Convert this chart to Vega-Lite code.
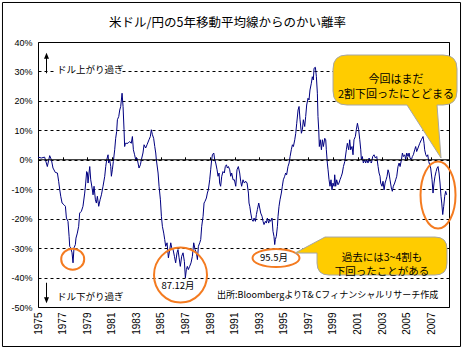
{
  "$schema": "https://vega.github.io/schema/vega-lite/v6.json",
  "width": 411,
  "height": 265,
  "autosize": {"type": "none"},
  "padding": {"left": 38, "top": 42, "right": 15, "bottom": 43},
  "background": "white",
  "config": {"view": {"stroke": "black", "strokeWidth": 1}, "font": "Noto Sans CJK JP"},
  "resolve": {"axis": {"x": "independent", "y": "independent"}},
  "datasets": {
    "fx": [
      {"t":1975.00,"pct":0.9},{"t":1975.27,"pct":0.6},{"t":1975.54,"pct":0.9},{"t":1975.76,"pct":-2.3},{"t":1975.95,"pct":1.4},{"t":1976.09,"pct":0},{"t":1976.22,"pct":-2.8},{"t":1976.41,"pct":-4.3},{"t":1976.58,"pct":-4.5},{"t":1976.68,"pct":-7.3},{"t":1976.77,"pct":-10.2},{"t":1976.85,"pct":-12.4},{"t":1976.96,"pct":-14.7},{"t":1977.12,"pct":-15.3},{"t":1977.23,"pct":-15.8},{"t":1977.31,"pct":-19.8},{"t":1977.44,"pct":-20.9},{"t":1977.53,"pct":-26.0},{"t":1977.58,"pct":-29.4},{"t":1977.66,"pct":-29.9},{"t":1977.77,"pct":-31.6},{"t":1977.85,"pct":-35.0},{"t":1977.93,"pct":-29.9},{"t":1978.04,"pct":-28.8},{"t":1978.09,"pct":-26.6},{"t":1978.20,"pct":-24.9},{"t":1978.31,"pct":-22.6},{"t":1978.39,"pct":-18.1},{"t":1978.53,"pct":-17.5},{"t":1978.66,"pct":-15.8},{"t":1978.80,"pct":-11.3},{"t":1978.88,"pct":-7.9},{"t":1978.96,"pct":-4.0},{"t":1979.02,"pct":-4.5},{"t":1979.07,"pct":-7.9},{"t":1979.15,"pct":-4.5},{"t":1979.21,"pct":-2.3},{"t":1979.29,"pct":-6.8},{"t":1979.40,"pct":-9.6},{"t":1979.48,"pct":-11.9},{"t":1979.56,"pct":-9.0},{"t":1979.67,"pct":-13.6},{"t":1979.75,"pct":-14.7},{"t":1979.83,"pct":-12.4},{"t":1979.94,"pct":-15.8},{"t":1980.05,"pct":-13.6},{"t":1980.16,"pct":-11.9},{"t":1980.29,"pct":-9.0},{"t":1980.43,"pct":-5.6},{"t":1980.51,"pct":-2.3},{"t":1980.59,"pct":0},{"t":1980.70,"pct":1.7},{"t":1980.75,"pct":-1.1},{"t":1980.83,"pct":0},{"t":1980.92,"pct":-2.3},{"t":1980.97,"pct":-5.6},{"t":1981.05,"pct":-3.4},{"t":1981.13,"pct":-0.6},{"t":1981.24,"pct":3.4},{"t":1981.32,"pct":7.3},{"t":1981.40,"pct":9.6},{"t":1981.46,"pct":13.6},{"t":1981.57,"pct":14.7},{"t":1981.65,"pct":16.9},{"t":1981.73,"pct":18.1},{"t":1981.84,"pct":22.6},{"t":1981.92,"pct":18.1},{"t":1982.00,"pct":10.2},{"t":1982.05,"pct":4.5},{"t":1982.11,"pct":5.6},{"t":1982.32,"pct":5.6},{"t":1982.46,"pct":6.2},{"t":1982.59,"pct":5.6},{"t":1982.68,"pct":7.9},{"t":1982.76,"pct":3.4},{"t":1982.86,"pct":1.7},{"t":1982.95,"pct":0},{"t":1983.05,"pct":0.6},{"t":1983.14,"pct":-1.1},{"t":1983.22,"pct":-2.8},{"t":1983.33,"pct":-1.7},{"t":1983.41,"pct":0},{"t":1983.54,"pct":2.3},{"t":1983.63,"pct":5.1},
      {"t":1983.76,"pct":4.0},{"t":1983.87,"pct":5.1},{"t":1984.03,"pct":6.8},{"t":1984.14,"pct":7.9},{"t":1984.22,"pct":10.2},{"t":1984.31,"pct":8.5},{"t":1984.41,"pct":7.3},{"t":1984.50,"pct":4.5},{"t":1984.58,"pct":2.3},{"t":1984.63,"pct":0},{"t":1984.77,"pct":-4.5},{"t":1984.85,"pct":-9.0},{"t":1984.96,"pct":-13.6},{"t":1985.04,"pct":-19.2},{"t":1985.12,"pct":-22.6},{"t":1985.23,"pct":-24.9},{"t":1985.31,"pct":-27.1},{"t":1985.39,"pct":-29.4},{"t":1985.50,"pct":-28.2},{"t":1985.61,"pct":-33.3},{"t":1985.72,"pct":-30.5},{"t":1985.80,"pct":-28.2},{"t":1985.88,"pct":-29.9},{"t":1985.99,"pct":-30.5},{"t":1986.10,"pct":-32.8},{"t":1986.20,"pct":-35.0},{"t":1986.31,"pct":-31.6},{"t":1986.39,"pct":-30.5},{"t":1986.48,"pct":-33.3},{"t":1986.58,"pct":-36.2},{"t":1986.69,"pct":-32.8},{"t":1986.80,"pct":-31.6},{"t":1986.91,"pct":-34.5},{"t":1986.99,"pct":-40.1},{"t":1987.07,"pct":-37.3},{"t":1987.15,"pct":-36.2},{"t":1987.23,"pct":-37.3},{"t":1987.34,"pct":-36.2},{"t":1987.45,"pct":-35.0},{"t":1987.56,"pct":-32.8},{"t":1987.67,"pct":-28.2},{"t":1987.78,"pct":-30.5},{"t":1987.89,"pct":-31.6},{"t":1987.97,"pct":-33.9},{"t":1988.05,"pct":-29.4},{"t":1988.16,"pct":-28.2},{"t":1988.24,"pct":-27.1},{"t":1988.32,"pct":-22.6},{"t":1988.43,"pct":-19.2},{"t":1988.51,"pct":-14.7},{"t":1988.59,"pct":-14.1},{"t":1988.70,"pct":-13.0},{"t":1988.78,"pct":-11.3},{"t":1988.86,"pct":-10.2},{"t":1988.97,"pct":-6.8},{"t":1989.05,"pct":-3.4},{"t":1989.13,"pct":0},{"t":1989.19,"pct":1.7},{"t":1989.30,"pct":2.3},{"t":1989.38,"pct":0},{"t":1989.46,"pct":-1.1},{"t":1989.57,"pct":-3.4},{"t":1989.65,"pct":-5.6},{"t":1989.73,"pct":-4.5},{"t":1989.78,"pct":-7.9},{"t":1989.86,"pct":-9.0},{"t":1989.95,"pct":-5.6},{"t":1990.05,"pct":-4.0},{"t":1990.16,"pct":-4.5},{"t":1990.24,"pct":-2.3},{"t":1990.33,"pct":-1.7},{"t":1990.41,"pct":-2.8},{"t":1990.49,"pct":-2.3},{"t":1990.60,"pct":-3.4},{"t":1990.68,"pct":-5.6},{"t":1990.76,"pct":-4.5},{"t":1990.87,"pct":-6.8},{"t":1990.98,"pct":-6.8},{"t":1991.09,"pct":-9.0},{"t":1991.19,"pct":-3.4},{"t":1991.30,"pct":-2.3},{"t":1991.41,"pct":-4.5},{"t":1991.49,"pct":-7.3},{"t":1991.57,"pct":-9.0},{"t":1991.68,"pct":-6.8},{"t":1991.79,"pct":-7.9},{"t":1991.90,"pct":-7.3},{"t":1992.01,"pct":-7.9},{"t":1992.12,"pct":-11.3},{"t":1992.17,"pct":-14.7},
      {"t":1992.23,"pct":-15.8},{"t":1992.31,"pct":-18.1},{"t":1992.41,"pct":-20.3},{"t":1992.50,"pct":-20.9},{"t":1992.58,"pct":-19.8},{"t":1992.69,"pct":-20.9},{"t":1992.77,"pct":-18.6},{"t":1992.85,"pct":-16.9},{"t":1992.96,"pct":-14.7},{"t":1993.04,"pct":-16.4},{"t":1993.12,"pct":-18.1},{"t":1993.23,"pct":-19.2},{"t":1993.31,"pct":-20.9},{"t":1993.39,"pct":-22.0},{"t":1993.50,"pct":-20.9},{"t":1993.58,"pct":-21.5},{"t":1993.66,"pct":-19.8},{"t":1993.77,"pct":-21.5},{"t":1993.85,"pct":-20.3},{"t":1993.93,"pct":-20.9},{"t":1994.04,"pct":-19.8},{"t":1994.12,"pct":-24.3},{"t":1994.20,"pct":-26.0},{"t":1994.26,"pct":-28.8},{"t":1994.31,"pct":-27.1},{"t":1994.39,"pct":-26.0},{"t":1994.48,"pct":-22.6},{"t":1994.53,"pct":-19.2},{"t":1994.61,"pct":-15.8},{"t":1994.69,"pct":-13.6},{"t":1994.80,"pct":-11.3},{"t":1994.88,"pct":-9.0},{"t":1994.96,"pct":-6.8},{"t":1995.07,"pct":-5.6},{"t":1995.15,"pct":-4.5},{"t":1995.23,"pct":-5.1},{"t":1995.34,"pct":-2.3},{"t":1995.43,"pct":-1.1},{"t":1995.51,"pct":1.1},{"t":1995.61,"pct":3.4},{"t":1995.70,"pct":5.1},{"t":1995.78,"pct":4.5},{"t":1995.89,"pct":6.8},{"t":1995.97,"pct":9.0},{"t":1996.05,"pct":12.4},{"t":1996.16,"pct":16.9},{"t":1996.24,"pct":18.1},{"t":1996.32,"pct":13.6},{"t":1996.43,"pct":9.0},{"t":1996.51,"pct":10.2},{"t":1996.59,"pct":13.6},{"t":1996.70,"pct":11.3},{"t":1996.78,"pct":14.7},{"t":1996.86,"pct":18.6},{"t":1996.97,"pct":20.9},{"t":1997.05,"pct":20.3},{"t":1997.13,"pct":23.7},{"t":1997.24,"pct":26.0},{"t":1997.32,"pct":28.2},{"t":1997.40,"pct":27.1},{"t":1997.46,"pct":31.1},{"t":1997.57,"pct":31.4},{"t":1997.65,"pct":28.2},{"t":1997.73,"pct":22.6},{"t":1997.78,"pct":14.7},{"t":1997.84,"pct":10.2},{"t":1997.89,"pct":4.5},{"t":1997.97,"pct":6.8},{"t":1998.06,"pct":3.4},{"t":1998.14,"pct":6.8},{"t":1998.22,"pct":4.5},{"t":1998.33,"pct":7.3},{"t":1998.41,"pct":6.8},{"t":1998.46,"pct":3.4},{"t":1998.54,"pct":-1.1},{"t":1998.60,"pct":-3.4},{"t":1998.68,"pct":-6.8},{"t":1998.76,"pct":-9.0},{"t":1998.84,"pct":-6.8},{"t":1998.92,"pct":-10.2},{"t":1999.00,"pct":-7.9},{"t":1999.09,"pct":-9.0},{"t":1999.14,"pct":-5.1},{"t":1999.22,"pct":-9.0},{"t":1999.30,"pct":-6.8},{"t":1999.41,"pct":-8.5},{"t":1999.49,"pct":-7.9},{"t":1999.57,"pct":-6.8},{"t":1999.68,"pct":-5.6},{"t":1999.76,"pct":-4.5},{"t":1999.85,"pct":-2.3},
      {"t":1999.96,"pct":-0.6},{"t":2000.09,"pct":3.4},{"t":2000.17,"pct":5.6},{"t":2000.28,"pct":3.4},{"t":2000.36,"pct":6.8},{"t":2000.44,"pct":3.4},{"t":2000.55,"pct":4.5},{"t":2000.63,"pct":1.7},{"t":2000.71,"pct":6.8},{"t":2000.82,"pct":7.9},{"t":2000.90,"pct":10.2},{"t":2000.99,"pct":12.4},{"t":2001.09,"pct":10.2},{"t":2001.18,"pct":6.8},{"t":2001.26,"pct":3.4},{"t":2001.31,"pct":0},{"t":2001.39,"pct":1.1},{"t":2001.47,"pct":-1.1},{"t":2001.58,"pct":0},{"t":2001.66,"pct":-1.1},{"t":2001.75,"pct":0},{"t":2001.85,"pct":-1.1},{"t":2001.94,"pct":0.6},{"t":2002.02,"pct":-0.6},{"t":2002.13,"pct":-1.1},{"t":2002.23,"pct":1.1},{"t":2002.34,"pct":1.7},{"t":2002.45,"pct":0.6},{"t":2002.56,"pct":1.1},{"t":2002.67,"pct":-2.3},{"t":2002.75,"pct":-4.5},{"t":2002.83,"pct":-5.6},{"t":2002.88,"pct":-7.9},{"t":2002.99,"pct":-9.0},{"t":2003.07,"pct":-7.3},{"t":2003.16,"pct":-10.2},{"t":2003.24,"pct":-7.9},{"t":2003.32,"pct":-6.8},{"t":2003.40,"pct":-5.6},{"t":2003.48,"pct":-3.4},{"t":2003.56,"pct":-4.5},{"t":2003.64,"pct":-6.8},{"t":2003.75,"pct":-9.6},{"t":2003.83,"pct":-10.7},{"t":2003.91,"pct":-9.0},{"t":2004.02,"pct":-7.9},{"t":2004.10,"pct":-6.8},{"t":2004.19,"pct":-5.6},{"t":2004.29,"pct":-2.3},{"t":2004.38,"pct":-1.1},{"t":2004.46,"pct":-2.3},{"t":2004.57,"pct":0},{"t":2004.65,"pct":2.3},{"t":2004.73,"pct":1.1},{"t":2004.84,"pct":1.7},{"t":2004.92,"pct":0},{"t":2005.00,"pct":2.3},{"t":2005.11,"pct":1.1},{"t":2005.19,"pct":2.3},{"t":2005.27,"pct":0.6},{"t":2005.38,"pct":0},{"t":2005.46,"pct":1.1},{"t":2005.54,"pct":1.7},{"t":2005.65,"pct":3.4},{"t":2005.73,"pct":4.5},{"t":2005.81,"pct":2.8},{"t":2005.92,"pct":4.0},{"t":2006.06,"pct":5.6},{"t":2006.19,"pct":6.8},{"t":2006.33,"pct":7.9},{"t":2006.41,"pct":5.6},{"t":2006.46,"pct":3.4},{"t":2006.55,"pct":1.7},{"t":2006.63,"pct":1.1},{"t":2006.71,"pct":1.7},{"t":2006.79,"pct":-0.6},{"t":2006.87,"pct":-1.7},{"t":2006.95,"pct":-2.8},{"t":2007.06,"pct":-6.8},{"t":2007.14,"pct":-11.3},{"t":2007.22,"pct":-7.9},{"t":2007.30,"pct":-5.6},{"t":2007.39,"pct":-4.0},{"t":2007.47,"pct":-2.8},{"t":2007.55,"pct":-2.3},{"t":2007.63,"pct":-4.5},{"t":2007.71,"pct":-7.9},{"t":2007.79,"pct":-12.4},{"t":2007.85,"pct":-14.7},{"t":2007.93,"pct":-18.6},{"t":2008.01,"pct":-15.8},{"t":2008.09,"pct":-12.4},{"t":2008.17,"pct":-10.7},{"t":2008.25,"pct":-11.9}
    ]
  },
  "layer": [
    {
      "data": {"name": "fx"},
      "mark": {"type": "line", "color": "#000080", "strokeWidth": 1},
      "encoding": {
        "x": {"field": "t", "type": "quantitative", "scale": {"domain": [1975, 2008.44], "nice": false, "zero": false},
              "axis": {"orient": "bottom", "values": [1975,1977,1979,1981,1983,1985,1987,1989,1991,1993,1995,1997,1999,2001,2003,2005,2007], "format": "d", "labelAngle": -90, "labelFont": "Liberation Sans", "labelFontSize": 10, "labelColor": "black", "labelPadding": 5, "ticks": false, "domain": false, "grid": false, "title": null, "labelOverlap": false}},
        "y": {"field": "pct", "type": "quantitative", "scale": {"domain": [-50, 40], "nice": false, "zero": false},
              "axis": {"values": [-50,-40,-30,-20,-10,0,10,20,30,40], "labelExpr": "datum.value + '%'", "labelFont": "Liberation Sans", "labelFontSize": 9, "labelColor": "black", "labelPadding": 6, "ticks": false, "domain": false, "grid": true, "gridColor": "black", "gridOpacity": 1, "gridDash": [3, 3], "gridWidth": 1, "title": null}}
      }
    },
    {
      "data": {"values": [{}]},
      "mark": {"type": "rule", "color": "black", "strokeWidth": 1},
      "encoding": {
        "x": {"datum": 1975, "type": "quantitative", "axis": {"orient": "top", "offset": -117.8, "values": [1975,1977,1979,1981,1983,1985,1987,1989,1991,1993,1995,1997,1999,2001,2003,2005,2007], "labels": false, "ticks": true, "tickSize": 3, "tickColor": "black", "tickWidth": 1, "domain": false, "grid": false, "title": null}},
        "x2": {"datum": 2008.44},
        "y": {"datum": 0, "type": "quantitative", "axis": null}
      }
    },
    {
      "data": {"values": [{}]},
      "mark": {"type": "rect", "fill": null, "stroke": "black", "strokeWidth": 1},
      "encoding": {
        "x": {"datum": 1972.11, "type": "quantitative", "axis": null},
        "x2": {"datum": 2009.378},
        "y": {"datum": 53.42, "type": "quantitative", "axis": null},
        "y2": {"datum": -63.42}
      }
    },
    {
      "data": {"values": [{}]},
      "mark": {"type": "text", "text": "米ドル/円の5年移動平均線からのかい離率", "font": "Noto Sans CJK JP", "fontSize": 12.5, "align": "center", "baseline": "middle", "color": "black"},
      "encoding": {
        "x": {"datum": 1990.419, "type": "quantitative", "axis": null},
        "y": {"datum": 46.56, "type": "quantitative", "axis": null}
      }
    },
    {
      "data": {"values": [{}]},
      "mark": {"type": "rect", "fill": "white", "stroke": null},
      "encoding": {
        "x": {"datum": 1976.383, "type": "quantitative", "axis": null},
        "x2": {"datum": 1981.753},
        "y": {"datum": 32.53, "type": "quantitative", "axis": null},
        "y2": {"datum": 28.11}
      }
    },
    {
      "data": {"values": [{}]},
      "mark": {"type": "point", "shape": "M 0 -10.3 L 2.5 -4.3 L 0.5 -4.3 L 0.5 10.3 L -0.5 10.3 L -0.5 -4.3 L -2.5 -4.3 Z", "size": 4, "filled": true, "fill": "black", "strokeWidth": 0, "opacity": 1},
      "encoding": {
        "x": {"datum": 1975.692, "type": "quantitative", "axis": null},
        "y": {"datum": 32.87, "type": "quantitative", "axis": null}
      }
    },
    {
      "data": {"values": [{}]},
      "mark": {"type": "point", "shape": "M 0 10.3 L 2.5 4.3 L 0.5 4.3 L 0.5 -10.3 L -0.5 -10.3 L -0.5 4.3 L -2.5 4.3 Z", "size": 4, "filled": true, "fill": "black", "strokeWidth": 0, "opacity": 1},
      "encoding": {
        "x": {"datum": 1975.692, "type": "quantitative", "axis": null},
        "y": {"datum": -45.25, "type": "quantitative", "axis": null}
      }
    },
    {
      "data": {"values": [{}]},
      "mark": {"type": "text", "text": "ドル上がり過ぎ", "font": "Noto Sans CJK JP", "fontSize": 9.5, "align": "left", "baseline": "middle", "color": "black"},
      "encoding": {
        "x": {"datum": 1976.546, "type": "quantitative", "axis": null},
        "y": {"datum": 30.49, "type": "quantitative", "axis": null}
      }
    },
    {
      "data": {"values": [{}]},
      "mark": {"type": "text", "text": "ドル下がり過ぎ", "font": "Noto Sans CJK JP", "fontSize": 9.5, "align": "left", "baseline": "middle", "color": "black"},
      "encoding": {
        "x": {"datum": 1976.546, "type": "quantitative", "axis": null},
        "y": {"datum": -46.51, "type": "quantitative", "axis": null}
      }
    },
    {
      "data": {"values": [{}]},
      "mark": {"type": "text", "text": "出所:BloombergよりT& Cフィナンシャルリサーチ作成", "font": "Noto Sans CJK JP", "fontSize": 9, "align": "left", "baseline": "middle", "color": "black"},
      "encoding": {
        "x": {"datum": 1989.565, "type": "quantitative", "axis": null},
        "y": {"datum": -45.93, "type": "quantitative", "axis": null}
      }
    },
    {
      "data": {"values": [{}]},
      "mark": {"type": "point", "shape": "M -11.5 0 A 11.5 10.5 0 1 0 11.5 0 A 11.5 10.5 0 1 0 -11.5 0 Z", "size": 4, "filled": false, "stroke": "#F47B20", "strokeWidth": 2, "opacity": 1},
      "encoding": {
        "x": {"datum": 1977.823, "type": "quantitative", "axis": null},
        "y": {"datum": -33.77, "type": "quantitative", "axis": null}
      }
    },
    {
      "data": {"values": [{}]},
      "mark": {"type": "point", "shape": "M -26.5 0 A 26.5 27.5 0 1 0 26.5 0 A 26.5 27.5 0 1 0 -26.5 0 Z", "size": 4, "filled": false, "stroke": "#F47B20", "strokeWidth": 2, "opacity": 1},
      "encoding": {
        "x": {"datum": 1986.595, "type": "quantitative", "axis": null},
        "y": {"datum": -39.14, "type": "quantitative", "axis": null}
      }
    },
    {
      "data": {"values": [{}]},
      "mark": {"type": "point", "shape": "M -23.5 0 A 23.5 9 0 1 0 23.5 0 A 23.5 9 0 1 0 -23.5 0 Z", "size": 4, "filled": false, "stroke": "#F47B20", "strokeWidth": 2, "opacity": 1},
      "encoding": {
        "x": {"datum": 1994.365, "type": "quantitative", "axis": null},
        "y": {"datum": -33.37, "type": "quantitative", "axis": null}
      }
    },
    {
      "data": {"values": [{}]},
      "mark": {"type": "point", "shape": "M -17.5 0 A 17.5 33.5 0 1 0 17.5 0 A 17.5 33.5 0 1 0 -17.5 0 Z", "size": 4, "filled": false, "stroke": "#F47B20", "strokeWidth": 2, "opacity": 1},
      "encoding": {
        "x": {"datum": 2007.547, "type": "quantitative", "axis": null},
        "y": {"datum": -11.97, "type": "quantitative", "axis": null}
      }
    },
    {
      "data": {"values": [{}]},
      "mark": {"type": "text", "text": "87.12月", "font": "Noto Sans CJK JP", "fontSize": 9.5, "align": "center", "baseline": "middle", "color": "black"},
      "encoding": {
        "x": {"datum": 1986.391, "type": "quantitative", "axis": null},
        "y": {"datum": -42.88, "type": "quantitative", "axis": null}
      }
    },
    {
      "data": {"values": [{}]},
      "mark": {"type": "text", "text": "95.5月", "font": "Noto Sans CJK JP", "fontSize": 9.5, "align": "center", "baseline": "middle", "color": "black"},
      "encoding": {
        "x": {"datum": 1994.203, "type": "quantitative", "axis": null},
        "y": {"datum": -33.37, "type": "quantitative", "axis": null}
      }
    },
    {
      "data": {"values": [{}]},
      "mark": {"type": "point", "shape": "M -48 -25 L 48 -25 Q 62 -25 62 -11 L 62 11 Q 62 25 48 25 L 42 25 L 46 78 L 12 25 L -48 25 Q -62 25 -62 11 L -62 -11 Q -62 -25 -48 -25 Z", "size": 4, "filled": true, "fill": "#FFCC00", "stroke": "#A6A6A6", "strokeWidth": 1, "opacity": 1},
      "encoding": {
        "x": {"datum": 2004.048, "type": "quantitative", "axis": null},
        "y": {"datum": 27.09, "type": "quantitative", "axis": null}
      }
    },
    {
      "data": {"values": [{}]},
      "mark": {"type": "point", "shape": "M -53 -19 L 53 -19 Q 65 -19 65 -7 L 65 7 Q 65 19 53 19 L -53 19 Q -65 19 -65 7 L -65 -3 L -87 -3 L -57 -19 Z", "size": 4, "filled": true, "fill": "#FFCC00", "stroke": "#A6A6A6", "strokeWidth": 1, "opacity": 1},
      "encoding": {
        "x": {"datum": 2002.99, "type": "quantitative", "axis": null},
        "y": {"datum": -32.69, "type": "quantitative", "axis": null}
      }
    },
    {
      "data": {"values": [{}]},
      "mark": {"type": "text", "text": ["今回はまだ", "2割下回ったにとどまる"], "lineHeight": 14.5, "font": "Noto Sans CJK JP", "fontSize": 11, "align": "center", "baseline": "middle", "color": "black"},
      "encoding": {
        "x": {"datum": 2004.13, "type": "quantitative", "axis": null},
        "y": {"datum": 27.01, "type": "quantitative", "axis": null}
      }
    },
    {
      "data": {"values": [{}]},
      "mark": {"type": "text", "text": ["過去には3~4割も", "下回ったことがある"], "lineHeight": 14, "font": "Noto Sans CJK JP", "fontSize": 10.5, "align": "center", "baseline": "middle", "color": "black"},
      "encoding": {
        "x": {"datum": 2002.99, "type": "quantitative", "axis": null},
        "y": {"datum": -33.32, "type": "quantitative", "axis": null}
      }
    }
  ]
}
